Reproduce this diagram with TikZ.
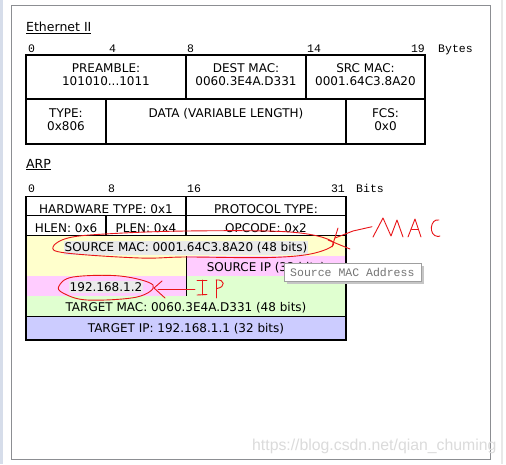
\documentclass[tikz,border=0pt]{standalone}
\usepackage{fontspec}
\setmainfont{DejaVu Sans}
\newfontfamily\monof{Liberation Mono}
\newfontfamily\wmf{Liberation Sans}
\definecolor{cyel}{RGB}{255,255,204}
\definecolor{cpink}{RGB}{255,204,255}
\definecolor{cgreen}{RGB}{224,255,208}
\definecolor{cblue}{RGB}{204,204,255}
\definecolor{ink}{RGB}{232,20,24}
\definecolor{frame}{RGB}{140,142,146}
\definecolor{sidestrip}{RGB}{214,221,234}
\definecolor{hilite}{RGB}{234,234,234}
\tikzset{
  cell/.style={font=\fontsize{12}{14}\selectfont, anchor=base, inner sep=0pt},
  num/.style={font=\monof\fontsize{11.5}{12}\selectfont, anchor=base west, inner sep=0pt},
  numr/.style={font=\monof\fontsize{11.5}{12}\selectfont, anchor=base east, inner sep=0pt},
  title/.style={font=\fontsize{12.5}{14}\selectfont, anchor=base west, inner sep=0pt},
  tbl/.style={draw=black, line width=1.8pt},
  thin/.style={draw=black, line width=1.1pt},
  redink/.style={draw=ink, line width=0.9pt, line cap=round, line join=round},
  hl/.style={fill=hilite, inner xsep=1pt, inner ysep=1.5pt}
}
\begin{document}
\begin{tikzpicture}[x=1pt,y=-1pt]
\useasboundingbox (0,0) rectangle (506,464);
\fill[white] (0,0) rectangle (506,464);
\fill[sidestrip] (0,0) rectangle (3,464);
\fill[gray!18] (501,0) rectangle (503,464);
\draw[frame, line width=1pt] (11,5) rectangle (490,459);

% ---------- Ethernet II ----------
\node[title] (eth) at (26,31.5) {\underline{Ethernet II}};
\node[num] (e0) at (28,52) {0};
\node[num] (e4) at (109,52) {4};
\node[num] (e8) at (187,52) {8};
\node[num] (e14) at (307,52) {14};
\node[numr] (e19) at (425,52) {19};
\node[num] (ebytes) at (438,52) {Bytes};

\draw[tbl] (26,55) rectangle (425,144);
\draw[tbl] (26,99) -- (425,99);
\draw[tbl] (186,55) -- (186,99);
\draw[tbl] (306,55) -- (306,99);
\draw[tbl] (106,99) -- (106,144);
\draw[tbl] (346,99) -- (346,144);

\node[cell] (preA) at (106,72.3) {PREAMBLE:};
\node[cell] (preB) at (106,85.7) {101010...1011};
\node[cell] (dmA) at (246,72.3) {DEST MAC:};
\node[cell] (dmB) at (246,85.7) {0060.3E4A.D331};
\node[cell] (smA) at (365.5,72.3) {SRC MAC:};
\node[cell] (smB) at (365.5,85.7) {0001.64C3.8A20};
\node[cell] (tyA) at (66,117.3) {TYPE:};
\node[cell] (tyB) at (66,130.7) {0x806};
\node[cell] (data) at (226,117.3) {DATA (VARIABLE LENGTH)};
\node[cell] (fcsA) at (385.5,117.3) {FCS:};
\node[cell] (fcsB) at (385.5,130.7) {0x0};

% ---------- ARP ----------
\node[title] (arp) at (26,168) {\underline{ARP}};
\node[num] (a0) at (28,192) {0};
\node[num] (a8) at (108,192) {8};
\node[num] (a16) at (187,192) {16};
\node[numr] (a31) at (345,192) {31};
\node[num] (abits) at (356,192) {Bits};

\fill[cyel] (26,235.5) rectangle (346,256);
\fill[cyel] (26,256) rectangle (186,275.5);
\fill[cpink] (186,256) rectangle (346,275.5);
\fill[cpink] (26,275.5) rectangle (186,295.5);
\fill[cgreen] (186,275.5) rectangle (346,295.5);
\fill[cgreen] (26,295.5) rectangle (346,316.5);
\fill[cblue] (26,316.5) rectangle (346,340);

\draw[tbl, line width=1.6pt] (26,196.5) rectangle (346,340);
\draw[tbl] (26,215.5) -- (346,215.5);
\draw[thin] (26,235.5) -- (346,235.5);
\draw[tbl, line width=1.6pt] (186,196.5) -- (186,235.5);
\draw[tbl, line width=1.6pt] (106,215.5) -- (106,235.5);
\draw[black, line width=1pt] (186,256) -- (186,295.5);
\draw[thin] (26,316.5) -- (346,316.5);

\node[cell] (hw) at (106,213.2) {HARDWARE TYPE: 0x1};
\node[cell] (pt) at (266,213.2) {PROTOCOL TYPE:};
\node[cell] (hlen) at (66,232.7) {HLEN: 0x6};
\node[cell] (plen) at (146,232.7) {PLEN: 0x4};
\node[cell] (op) at (266,232.7) {OPCODE: 0x2};
\node[cell, hl] (smac) at (186,251.7) {SOURCE MAC: 0001.64C3.8A20 (48 bits)};
\node[cell] (sip) at (266,271) {SOURCE IP (32 bits)};
\node[cell, hl] (sipv) at (106,291.7) {192.168.1.2};
\node[cell] (tmac) at (186,311) {TARGET MAC: 0060.3E4A.D331 (48 bits)};
\node[cell] (tip) at (186,332.7) {TARGET IP: 192.168.1.1 (32 bits)};

% tooltip
\fill[gray!45] (287,266) rectangle (424,284);
\node[draw=gray!75, fill=white, line width=0.8pt, minimum width=137pt, minimum height=18pt, inner sep=0pt, anchor=north west] (tipbox) at (284,263) {};
\node[num, text=gray!90!black] (tiptext) at (290,276) {Source MAC Address};

% ---------- red annotations ----------
\draw[redink] plot[smooth cycle, tension=0.6] coordinates {(53,247) (68,238) (105,234) (186,231) (290,232) (333,242) (315,253) (270,257.5) (186,257) (140,258) (66,253)};
\draw[redink] (338,228) -- (332,247);
\draw[redink] (328,240) -- (350,249);
\coordinate (macA) at (335,238);
\coordinate (macB) at (372,226.7);
\draw[redink] (macA) -- (353,231) -- (macB);
% MAC letters
\draw[redink] (373,237) -- (383,218) -- (391,236) -- (397,220) -- (403,237);
\draw[redink] (408,237) -- (415,219) -- (421,237);
\draw[redink] (411.5,229) -- (418.5,229);
\draw[redink] (439,220) .. controls (430,218) and (428,236) .. (438,236.5) -- (440,236);

\draw[redink] plot[smooth cycle, tension=0.6] coordinates {(59,286) (73,277) (120,276) (153,285) (137,297) (87,300) (63,293)};
\draw[redink] (162,281) -- (154,288) -- (165,298);
\coordinate (ipA) at (158,289);
\coordinate (ipB) at (195,289);
\draw[redink] (ipA) -- (ipB);
% I P letters
\draw[redink] (197,280) -- (207,280);
\draw[redink] (202,280) -- (202,295);
\draw[redink] (197,295) -- (207,294.5);
\draw[redink] (216,280) -- (216,298);
\draw[redink] (216,280) .. controls (225,279) and (226,287) .. (217,288.5);

% watermark
\node[font=\wmf\fontsize{15.8}{17}\selectfont, text=gray!28, anchor=base west, inner sep=0pt] (wm) at (252,450.5) {https://blog.csdn.net/qian\_chuming};
\end{tikzpicture}
\end{document}
